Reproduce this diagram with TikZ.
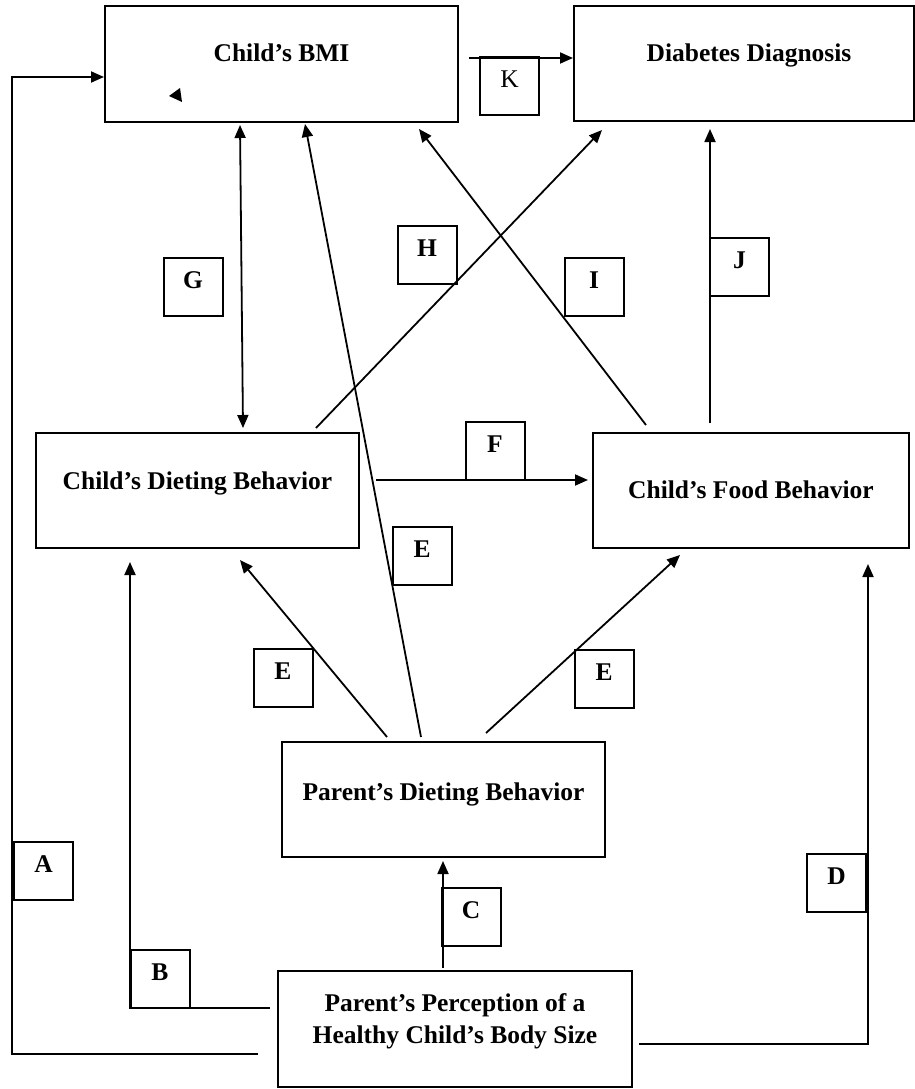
\documentclass[tikz,border=0pt]{standalone}
\usepackage{fontspec}
\setmainfont{Liberation Serif}
\usetikzlibrary{arrows.meta,calc}
\begin{document}
\begin{tikzpicture}[x=1pt,y=-1pt,
  box/.style={draw, line width=2pt, rectangle, anchor=north west, inner sep=0pt},
  title/.style={font=\fontsize{25.5}{32}\selectfont\bfseries, inner sep=0pt, align=center},
  lbl/.style={draw, line width=2pt, rectangle, minimum width=59, minimum height=58,
    inner sep=0pt, text height=17pt, text depth=14pt,
    font=\fontsize{25.5}{32}\selectfont\bfseries},
  arr/.style={line width=1.8pt, -{Triangle[length=13pt,width=11pt]}},
  dbl/.style={line width=1.8pt, {Triangle[length=13pt,width=11pt]}-{Triangle[length=13pt,width=11pt]}}
]
\useasboundingbox (0,0) rectangle (915,1089);

% main boxes
\node[box, minimum width=353, minimum height=116] (bmi)   at (104,5)   {};
\node[box, minimum width=340, minimum height=115] (diab)  at (573,5)   {};
\node[box, minimum width=323, minimum height=115] (cdiet) at (35,432)  {};
\node[box, minimum width=316, minimum height=115] (cfood) at (592,432) {};
\node[box, minimum width=323, minimum height=115] (pdiet) at (281,741) {};
\node[box, minimum width=354, minimum height=116] (perc)  at (277,970) {};

% box titles
\node[title, anchor=base] (tbmi)   at ($(bmi.north)+(0,57)$)   {Child’s BMI};
\node[title, anchor=base] (tdiab)  at ($(diab.north)+(5,57)$)  {Diabetes Diagnosis};
\node[title, anchor=base] (tcdiet) at ($(cdiet.north)+(0,57)$) {Child’s Dieting Behavior};
\node[title, anchor=base] (tcfood) at ($(cfood.north)+(0,66)$) {Child’s Food Behavior};
\node[title, anchor=base] (tpdiet) at ($(pdiet.north)+(0,59)$) {Parent’s Dieting Behavior};
\node[title] (tperc) at ($(perc.north)+(0,51)$) {Parent’s Perception of a\\Healthy Child’s Body Size};

% path labels
\node[lbl, font=\fontsize{25.5}{32}\selectfont\mdseries] (K) at (509.5,86) {K};
\node[lbl] (G)  at (193,286.5)   {G};
\node[lbl] (H)  at (427,254.5)   {H};
\node[lbl] (I)  at (594,286.5)   {I};
\node[lbl] (J)  at (739.5,266.5) {J};
\node[lbl] (F)  at (495,451)     {F};
\node[lbl] (Ec) at (422,555.5)   {E};
\node[lbl] (El) at (283,677.5)   {E};
\node[lbl] (Er) at (604,678.5)   {E};
\node[lbl] (A)  at (43.5,871)    {A};
\node[lbl] (B)  at (160,979)     {B};
\node[lbl] (C)  at (471,916.5)   {C};
\node[lbl] (D)  at (836.5,882.5) {D};

% connectors
\draw[arr] ($(bmi.north east)+(10,53)$) -- ($(diab.north west)+(0,53)$);
\draw[dbl] ($(bmi.south west)+(136,2)$) -- ($(cdiet.north west)+(208,-4)$);
\draw[arr] ($(pdiet.north west)+(140,-4)$) -- ($(bmi.south west)+(201,1)$);
\draw[arr] ($(cdiet.north west)+(281,-4)$) -- ($(diab.south west)+(29,8)$);
\draw[arr] ($(cfood.north west)+(54,-7)$) -- ($(bmi.south west)+(315,6)$);
\draw[arr] ($(cfood.north west)+(118,-9)$) -- ($(diab.south west)+(137,7)$);
\draw[arr] ($(cdiet.north east)+(16,48)$) -- ($(cfood.north west)+(-4,48)$);
\draw[arr] ($(pdiet.north west)+(106,-4)$) -- ($(cdiet.south west)+(205,11)$);
\draw[arr] ($(pdiet.north west)+(205,-8)$) -- ($(cfood.south west)+(88,6)$);
\draw[arr] ($(perc.north west)+(166,-2)$) -- ($(pdiet.south west)+(162,3)$);
\draw[arr] ($(perc.north west)+(-7,38)$) -| ($(cdiet.south west)+(95,13)$);
\draw[arr] ($(perc.north east)+(6,74)$) -| ($(cfood.south east)+(-42,15)$);
\draw[arr] ($(perc.north west)+(-19,84)$) -- ++(-246,0) |- ($(bmi.north west)+(0,72)$);

% small loose arrowhead inside the BMI box
\fill (169,96) -- (180,88) -- (182,102) -- cycle;
\end{tikzpicture}
\end{document}
